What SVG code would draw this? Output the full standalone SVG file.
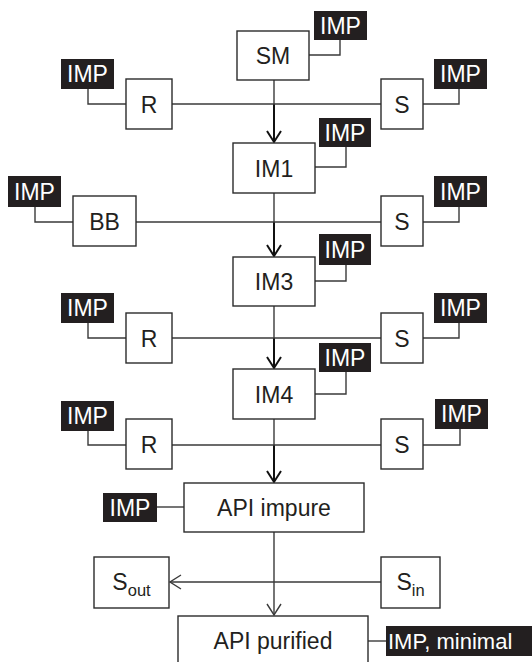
<svg xmlns="http://www.w3.org/2000/svg" width="532" height="662" viewBox="0 0 532 662">
  <style>
    .box { fill: #ffffff; stroke: #2b2b2b; stroke-width: 1.4; }
    .imp { fill: #231f20; stroke: none; }
    .lbl { font-family: "Liberation Sans", Arial, Helvetica, sans-serif; font-size: 23px; fill: #231f20; text-anchor: middle; }
    .ilbl { font-family: "Liberation Sans", Arial, Helvetica, sans-serif; font-size: 23px; fill: #ffffff; text-anchor: middle; }
    .ilbl.start { text-anchor: start; font-size: 22px; }
    .ln { fill: none; stroke: #3a3a3a; stroke-width: 1.4; }
    .flow { fill: none; stroke: #111111; stroke-width: 2; }
  </style>
  <defs>
    <marker id="headBold" viewBox="-12 -8 16 16" markerWidth="16" markerHeight="16" refX="0" refY="0" orient="auto" markerUnits="userSpaceOnUse">
      <polyline points="-11,-7 0,0 -11,7" fill="none" stroke="#111111" stroke-width="2"/>
    </marker>
    <marker id="headThin" viewBox="-12 -8 16 16" markerWidth="16" markerHeight="16" refX="0" refY="0" orient="auto" markerUnits="userSpaceOnUse">
      <polyline points="-11,-7 0,0 -11,7" fill="none" stroke="#3a3a3a" stroke-width="1.4"/>
    </marker>
  </defs>

  <!-- connectors -->
  <g id="connectors">
    <!-- main chain -->
    <path class="ln" d="M274,80 V104"/>
    <path class="flow" d="M274,104 V142" marker-end="url(#headBold)"/>
    <path class="ln" d="M274,193 V222"/>
    <path class="flow" d="M274,222 V256" marker-end="url(#headBold)"/>
    <path class="ln" d="M274,306 V338"/>
    <path class="flow" d="M274,338 V368" marker-end="url(#headBold)"/>
    <path class="ln" d="M274,419 V445"/>
    <path class="flow" d="M274,445 V482" marker-end="url(#headBold)"/>
    <path class="ln" d="M274,532 V615" marker-end="url(#headThin)"/>
    <!-- side branches -->
    <path class="ln" d="M172,104 H381"/>
    <path class="ln" d="M136,222 H381"/>
    <path class="ln" d="M172,338 H381"/>
    <path class="ln" d="M172,445 H381"/>
    <path class="ln" d="M381,582 H170" marker-end="url(#headThin)"/>
    <!-- IMP tags -->
    <path class="ln" d="M309,55 H340 V40"/>
    <path class="ln" d="M88,89 V104 H126"/>
    <path class="ln" d="M423,104 H459 V89"/>
    <path class="ln" d="M315,167 H346 V147"/>
    <path class="ln" d="M35,207 V222 H73"/>
    <path class="ln" d="M423,222 H459 V207"/>
    <path class="ln" d="M315,281 H346 V265"/>
    <path class="ln" d="M88,323 V338 H126"/>
    <path class="ln" d="M423,338 H459 V323"/>
    <path class="ln" d="M315,394 H346 V372"/>
    <path class="ln" d="M88,431 V445 H126"/>
    <path class="ln" d="M423,445 H460 V429"/>
    <path class="ln" d="M157,507 H184"/>
    <path class="ln" d="M368,641 H386"/>
  </g>

  <!-- level 0 -->
  <g id="sm"><rect class="box" x="237" y="31" width="72" height="49"/><text class="lbl" x="273" y="63.5">SM</text></g>
  <g id="imp-sm"><rect class="imp" x="314" y="11" width="53" height="29"/><text class="ilbl" x="340.5" y="33.5">IMP</text></g>
  <g id="r1"><rect class="box" x="126" y="79" width="46" height="50"/><text class="lbl" x="149" y="112.5">R</text></g>
  <g id="imp-r1"><rect class="imp" x="61" y="59" width="53" height="30"/><text class="ilbl" x="87.5" y="82">IMP</text></g>
  <g id="s1"><rect class="box" x="381" y="79" width="42" height="50"/><text class="lbl" x="402" y="112.5">S</text></g>
  <g id="imp-s1"><rect class="imp" x="434" y="59" width="53" height="30"/><text class="ilbl" x="460.5" y="82">IMP</text></g>

  <!-- level 1 -->
  <g id="im1"><rect class="box" x="233" y="143" width="82" height="50"/><text class="lbl" x="274" y="176.5">IM1</text></g>
  <g id="imp-im1"><rect class="imp" x="319" y="118" width="52" height="29"/><text class="ilbl" x="345" y="140.5">IMP</text></g>
  <g id="bb"><rect class="box" x="73" y="196" width="63" height="50"/><text class="lbl" x="104.5" y="229.5">BB</text></g>
  <g id="imp-bb"><rect class="imp" x="8" y="176" width="53" height="31"/><text class="ilbl" x="34.5" y="199.5">IMP</text></g>
  <g id="s2"><rect class="box" x="381" y="196" width="42" height="50"/><text class="lbl" x="402" y="229.5">S</text></g>
  <g id="imp-s2"><rect class="imp" x="434" y="176" width="53" height="31"/><text class="ilbl" x="460.5" y="199.5">IMP</text></g>

  <!-- level 2 -->
  <g id="im3"><rect class="box" x="233" y="257" width="82" height="49"/><text class="lbl" x="274" y="289.5">IM3</text></g>
  <g id="imp-im3"><rect class="imp" x="319" y="234" width="52" height="31"/><text class="ilbl" x="345" y="257.5">IMP</text></g>
  <g id="r3"><rect class="box" x="126" y="313" width="46" height="50"/><text class="lbl" x="149" y="346.5">R</text></g>
  <g id="imp-r3"><rect class="imp" x="61" y="293" width="53" height="30"/><text class="ilbl" x="87.5" y="316">IMP</text></g>
  <g id="s3"><rect class="box" x="381" y="313" width="42" height="50"/><text class="lbl" x="402" y="346.5">S</text></g>
  <g id="imp-s3"><rect class="imp" x="434" y="293" width="53" height="30"/><text class="ilbl" x="460.5" y="316">IMP</text></g>

  <!-- level 3 -->
  <g id="im4"><rect class="box" x="233" y="369" width="82" height="50"/><text class="lbl" x="274" y="402.5">IM4</text></g>
  <g id="imp-im4"><rect class="imp" x="319" y="343" width="52" height="29"/><text class="ilbl" x="345" y="365.5">IMP</text></g>
  <g id="r4"><rect class="box" x="126" y="419" width="46" height="50"/><text class="lbl" x="149" y="452.5">R</text></g>
  <g id="imp-r4"><rect class="imp" x="61" y="401" width="53" height="30"/><text class="ilbl" x="87.5" y="424">IMP</text></g>
  <g id="s4"><rect class="box" x="381" y="419" width="42" height="50"/><text class="lbl" x="402" y="452.5">S</text></g>
  <g id="imp-s4"><rect class="imp" x="435" y="399" width="53" height="30"/><text class="ilbl" x="461.5" y="422">IMP</text></g>

  <!-- purification -->
  <g id="api-impure"><rect class="box" x="184" y="483" width="180" height="49"/><text class="lbl" x="274" y="515.5">API impure</text></g>
  <g id="imp-api"><rect class="imp" x="103" y="493" width="54" height="29"/><text class="ilbl" x="130" y="515.5">IMP</text></g>
  <g id="s-out"><rect class="box" x="94" y="557" width="75" height="51"/><text class="lbl" x="131.5" y="589.5">S<tspan font-size="16.5" dy="6">out</tspan></text></g>
  <g id="s-in"><rect class="box" x="381" y="557" width="59" height="51"/><text class="lbl" x="410.5" y="589.5">S<tspan font-size="16.5" dy="6">in</tspan></text></g>
  <g id="api-purified"><rect class="box" x="178" y="616" width="190" height="60"/><text class="lbl" x="273" y="648.5">API purified</text></g>
  <g id="imp-minimal"><rect class="imp" x="386" y="626" width="150" height="30"/><text class="ilbl start" x="388" y="648.5">IMP, minimal</text></g>
</svg>
